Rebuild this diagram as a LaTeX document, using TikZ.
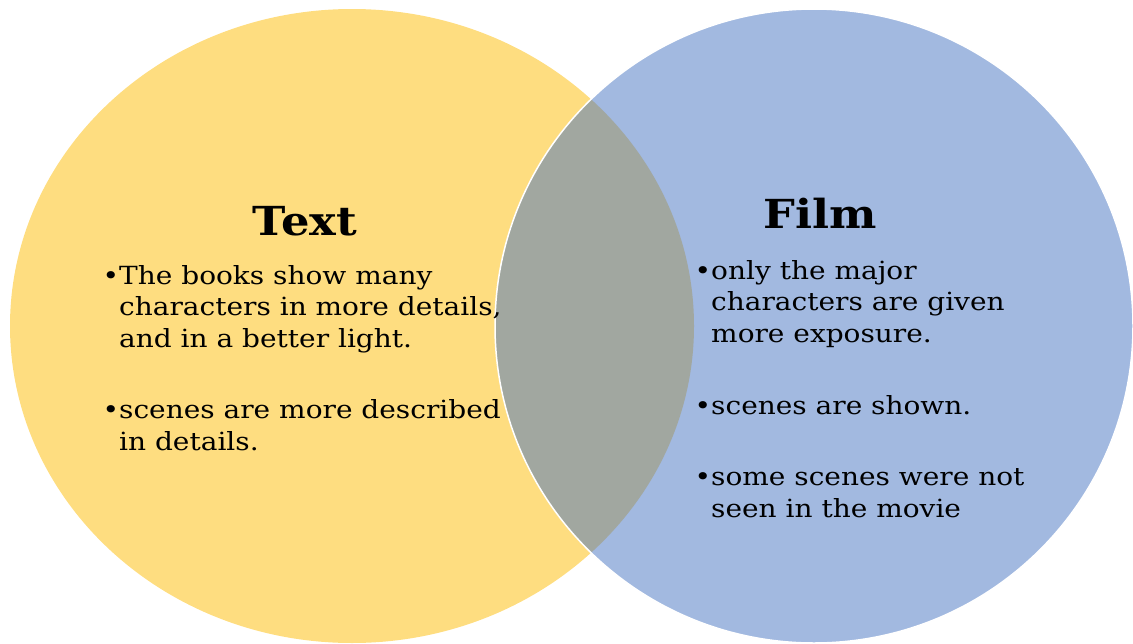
\documentclass[tikz,border=0pt]{standalone}
\usepackage{fontspec}
\setmainfont{DejaVu Serif}[FakeStretch=1.12]
\definecolor{textyellow}{RGB}{254,221,128}
\definecolor{filmblue}{RGB}{162,185,224}
\definecolor{overlapgray}{RGB}{161,167,160}
\newcommand{\dotitem}{\llap{•}}
\tikzset{
    every node/.style={inner sep=0mm, font=\fontsize{25}{31.5}\selectfont},
    title/.style={anchor=base, font=\fontsize{40}{46}\selectfont\bfseries},
    item/.style={anchor=base west, align=left}
}

\begin{document}
\begin{tikzpicture}[x=1pt, y=-1pt]
        \useasboundingbox (0,0) rectangle (1133,643);
        \fill[textyellow] (352,326) ellipse [x radius=342pt, y radius=317pt];
        \fill[filmblue] (814,326) ellipse [x radius=319pt, y radius=317pt];
        \begin{scope}
                \clip (352,326) ellipse [x radius=342pt, y radius=317pt];
                \fill[overlapgray] (814,326) ellipse [x radius=319pt, y radius=317pt];
        \end{scope}
        \draw[white, line width=1.5pt] (814,326) ellipse [x radius=319pt, y radius=317pt];
        \node (t0) [title] at (305,235) {Text};
        \node (f0) [title] at (820,228) {Film};
        % base anchor sits on the last line
        \node (t1) [item] at (119,347) {\dotitem The books show many\\characters in more details,\\and in a better light.};
        \node (t2) [item] at (119,450) {\dotitem scenes are more described\\in details.};
        \node (f1) [item] at (711,342) {\dotitem only the major\\characters are given\\more exposure.};
        \node (f2) [item] at (711,414) {\dotitem scenes are shown.};
        \node (f3) [item] at (711,517) {\dotitem some scenes were not\\seen in the movie};
\end{tikzpicture}
\end{document}
